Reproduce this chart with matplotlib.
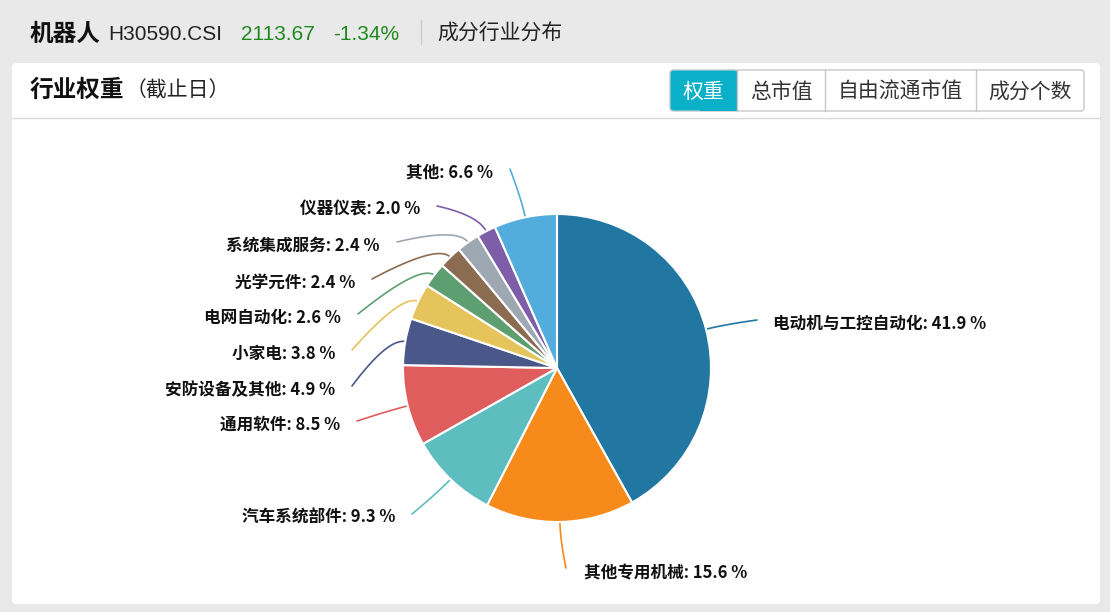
import numpy as np
import matplotlib
matplotlib.use("Agg")
import matplotlib.pyplot as plt
from matplotlib.patches import FancyBboxPatch, Rectangle

# ---------------- data ----------------
industries = ["电动机与工控自动化", "其他专用机械", "汽车系统部件", "通用软件",
              "安防设备及其他", "小家电", "电网自动化", "光学元件",
              "系统集成服务", "仪器仪表", "其他"]
weights = [41.9, 15.6, 9.3, 8.5, 4.9, 3.8, 2.6, 2.4, 2.4, 2.0, 6.6]
colors = ["#2277a2", "#f68a1b", "#5ebebf", "#e05d5d", "#4a5889", "#e5c45b",
          "#5e9f71", "#8b6c50", "#9ea8b2", "#7e5ea9", "#52acdc"]

index_name = "机器人"
index_code = "H30590.CSI"
index_value = "2113.67"
index_change = "-1.34%"
tabs = ["权重", "总市值", "自由流通市值", "成分个数"]

# ---------------- layout ----------------
W, H = 1110, 612
fig = plt.figure(figsize=(W / 100, H / 100), dpi=100, facecolor="#e9e9e9")
ax = fig.add_axes([0, 0, 1, 1])

CX, CY, R = 557, 368, 154

CJK = ["Noto Sans CJK SC", "DejaVu Sans"]
LAT = ["Liberation Sans", "Noto Sans CJK SC"]

# pie (y axis is inverted below: counterclock=True + startangle=-90 => clockwise from top on screen)
wedges, _ = ax.pie(weights, colors=colors, center=(CX, CY), radius=R,
                   counterclock=True, startangle=-90,
                   wedgeprops=dict(edgecolor="white", linewidth=1.5))
for w in wedges:
    w.set_zorder(3)

ax.set_xlim(0, W)
ax.set_ylim(H, 0)
ax.set_aspect("equal")
ax.axis("off")

# card
card = FancyBboxPatch((12, 63), 1088, 541, boxstyle="round,pad=0,rounding_size=5",
                      facecolor="white", edgecolor="none", zorder=0)
ax.add_patch(card)
ax.plot([12, 1100], [117.5, 117.5], color="#d9d9d9", lw=1, zorder=1)

# header
ax.text(30, 34, index_name, fontsize=17, fontweight="bold", family=CJK,
        va="center", ha="left", color="#111")
ax.text(108, 34, index_code, fontsize=15, family=LAT, va="center", ha="left", color="#222")
ax.text(241, 34, index_value, fontsize=15, family=LAT, va="center", ha="left", color="#1e8a1e")
ax.text(333, 34, index_change, fontsize=15, family=LAT, va="center", ha="left", color="#1e8a1e")
ax.plot([421, 421], [20, 44], color="#cccccc", lw=1)
ax.text(437, 34, "成分行业分布", fontsize=15, family=CJK, va="center", ha="left", color="#222")

ax.text(30, 90, "行业权重", fontsize=17, fontweight="bold", family=CJK,
        va="center", ha="left", color="#111")
ax.text(126, 91, "（截止日）", fontsize=15, family=CJK, va="center", ha="left", color="#222")

# tabs
edges = [670, 737, 825, 976, 1084]
outer = FancyBboxPatch((670, 70), 414, 41, boxstyle="round,pad=0,rounding_size=3",
                       facecolor="white", edgecolor="#c8c8c8", lw=1, zorder=2)
ax.add_patch(outer)
ax.add_patch(FancyBboxPatch((670.5, 70.5), 66.5, 40, boxstyle="round,pad=0,rounding_size=3",
                            facecolor="#0aafc8", edgecolor="none", zorder=3))
ax.add_patch(Rectangle((700, 70.5), 37, 40, facecolor="#0aafc8", edgecolor="none", zorder=3))
for x in edges[1:-1]:
    ax.plot([x, x], [70, 111], color="#c8c8c8", lw=1, zorder=4)
for i, t in enumerate(tabs):
    ax.text((edges[i] + edges[i + 1]) / 2, 92, t, fontsize=15, family=CJK,
            ha="center", va="center", color="white" if i == 0 else "#333", zorder=5)

# labels: (line-end x, label y) in pixels, side
label_pos = [(757, 320, "r"), (566, 568, "l_down"), (412, 514, "l"), (357, 421, "l"),
             (352, 386, "l"), (352, 350, "l"), (358, 314, "l"), (372, 279, "l"),
             (397, 242, "l"), (437, 206, "l"), (510, 169, "l")]

total = sum(weights)
cum = 0.0
for i, (name, v) in enumerate(zip(industries, weights)):
    mid = (cum + v / 2) / total * 360.0
    cum += v
    th = np.deg2rad(mid)
    sx, sy = CX + R * np.sin(th), CY - R * np.cos(th)
    cx1, cy1 = CX + (R + 18) * np.sin(th), CY - (R + 18) * np.cos(th)
    ex, ey, side = label_pos[i]
    t = np.linspace(0, 1, 40)
    bx = (1 - t) ** 2 * sx + 2 * (1 - t) * t * cx1 + t ** 2 * ex
    by = (1 - t) ** 2 * sy + 2 * (1 - t) * t * cy1 + t ** 2 * ey
    ax.plot(bx, by, color=colors[i], lw=1.2, zorder=2, solid_capstyle="round")
    txt = f"{name}: {v:.1f} %"
    if side == "r":
        ax.text(ex + 16, ey + 4, txt, fontsize=12, fontweight="bold", family=CJK,
                ha="left", va="center", color="#111")
    elif side == "l_down":
        ax.text(ex + 18, ey + 5, txt, fontsize=12, fontweight="bold", family=CJK,
                ha="left", va="center", color="#111")
    else:
        ax.text(ex - 17, ey + 4, txt, fontsize=12, fontweight="bold", family=CJK,
                ha="right", va="center", color="#111")

fig.savefig("out.png", dpi=100, facecolor=fig.get_facecolor())
